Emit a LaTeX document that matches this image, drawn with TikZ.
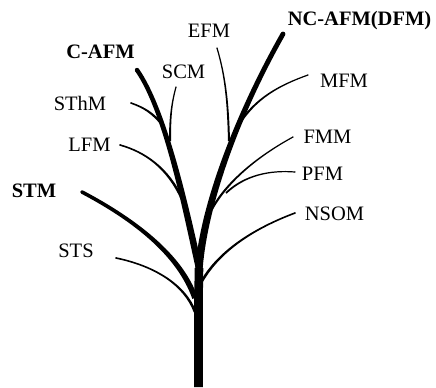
\documentclass[tikz,border=0pt]{standalone}
\usepackage{fontspec}
\setmainfont{Liberation Serif}
\usetikzlibrary{calc}
% A tapering limb: Bezier #1 .. #2 and #3 .. #4, half-width #5 at #1 and #6 at #4
\newcommand\taperlimb[6]{%
  \fill ($(#1)!#5!90:(#2)$) .. controls ($(#2)!#5!-90:(#1)$) and ($(#3)!#6!90:(#4)$) .. ($(#4)!#6!-90:(#3)$)
     -- ($(#4)!#6!90:(#3)$) .. controls ($(#3)!#6!-90:(#4)$) and ($(#2)!#5!90:(#1)$) .. ($(#1)!#5!-90:(#2)$)
     -- cycle;
  \fill (#4) circle[radius=#6];
}
\begin{document}
\begin{tikzpicture}[x=1bp,y=-1bp,
  lbl/.style={font=\fontsize{20.5bp}{24bp}\selectfont, inner sep=0pt, anchor=base},
  lblb/.style={lbl, font=\fontsize{20.5bp}{24bp}\selectfont\bfseries},
  trunkline/.style={line width=8.6bp}]
\useasboundingbox (0,0) rectangle (436,387);

% labels
\node[lbl]  (efm)   at (209,37)    {EFM};
\node[lblb] (ncafm) at (359.5,25)  {NC-AFM(DFM)};
\node[lblb] (cafm)  at (100.5,58)  {C-AFM};
\node[lbl]  (scm)   at (183.5,78)  {SCM};
\node[lbl]  (sthm)  at (80,110)    {SThM};
\node[lbl]  (lfm)   at (89.5,151)  {LFM};
\node[lblb] (stm)   at (34,197)    {STM};
\node[lbl]  (sts)   at (76,257)    {STS};
\node[lbl]  (mfm)   at (344,87)    {MFM};
\node[lbl]  (fmm)   at (327.5,143) {FMM};
\node[lbl]  (pfm)   at (322.5,180) {PFM};
\node[lbl]  (nsom)  at (334.5,220) {NSOM};

% branch tips beside the labels
\coordinate (efm-tip)   at (217,48);
\coordinate (ncafm-tip) at (283,34);
\coordinate (cafm-tip)  at (137,70);
\coordinate (scm-tip)   at (176,87);
\coordinate (sthm-tip)  at (131,103);
\coordinate (lfm-tip)   at (120,145);
\coordinate (stm-tip)   at (82,192);
\coordinate (sts-tip)   at (116,258);
\coordinate (mfm-tip)   at (308,75);
\coordinate (fmm-tip)   at (293,137);
\coordinate (pfm-tip)   at (295,172);
\coordinate (nsom-tip)  at (295,213);

% forks on the trunk and on the limbs
\coordinate (root)      at (198.5,387);
\coordinate (fork)      at (199,268);
\coordinate (stm-fork)  at (195,298);
\coordinate (sts-fork)  at (195,312);
\coordinate (nsom-fork) at (202,281);
\coordinate (lfm-fork)  at (182,199);
\coordinate (sthm-fork) at (161,123);
\coordinate (scm-fork)  at (170,141);
\coordinate (efm-fork)  at (229,141);
\coordinate (mfm-fork)  at (238,126);
\coordinate (fmm-fork)  at (212,209);
\coordinate (pfm-fork)  at (226,193);

% trunk
\draw[trunkline] (root) -- (198.5,300) -- (fork);

% main limbs
\coordinate (c1) at (185,205);  \coordinate (c2) at (165,110);
\taperlimb{fork}{c1}{c2}{cafm-tip}{3.3bp}{2.2bp}
\coordinate (n1) at (204,205);  \coordinate (n2) at (237,115);
\taperlimb{fork}{n1}{n2}{ncafm-tip}{3.7bp}{2.4bp}
\coordinate (s1) at (180,255);  \coordinate (s2) at (135,220);
\taperlimb{stm-fork}{s1}{s2}{stm-tip}{2.8bp}{1.8bp}

% twigs on the left
\coordinate (t1) at (185,285);  \coordinate (t2) at (155,266);
\taperlimb{sts-fork}{t1}{t2}{sts-tip}{1.3bp}{0.8bp}
\coordinate (l1) at (168,168);  \coordinate (l2) at (145,152);
\taperlimb{lfm-fork}{l1}{l2}{lfm-tip}{1.3bp}{0.8bp}
\coordinate (h1) at (152,113);  \coordinate (h2) at (145,108);
\taperlimb{sthm-fork}{h1}{h2}{sthm-tip}{1.2bp}{0.8bp}
\coordinate (k1) at (170,120);  \coordinate (k2) at (171,105);
\taperlimb{scm-fork}{k1}{k2}{scm-tip}{1bp}{0.6bp}

% twigs on the right
\coordinate (e1) at (228,100);  \coordinate (e2) at (225,75);
\taperlimb{efm-fork}{e1}{e2}{efm-tip}{1bp}{0.6bp}
\coordinate (m1) at (255,98);   \coordinate (m2) at (280,85);
\taperlimb{mfm-fork}{m1}{m2}{mfm-tip}{1.1bp}{0.6bp}
\coordinate (f1) at (228,180);  \coordinate (f2) at (260,155);
\taperlimb{fmm-fork}{f1}{f2}{fmm-tip}{1.1bp}{0.6bp}
\coordinate (p1) at (245,175);  \coordinate (p2) at (270,170);
\taperlimb{pfm-fork}{p1}{p2}{pfm-tip}{0.9bp}{0.6bp}
\coordinate (o1) at (220,250);  \coordinate (o2) at (255,228);
\taperlimb{nsom-fork}{o1}{o2}{nsom-tip}{1.3bp}{0.8bp}
\end{tikzpicture}
\end{document}
